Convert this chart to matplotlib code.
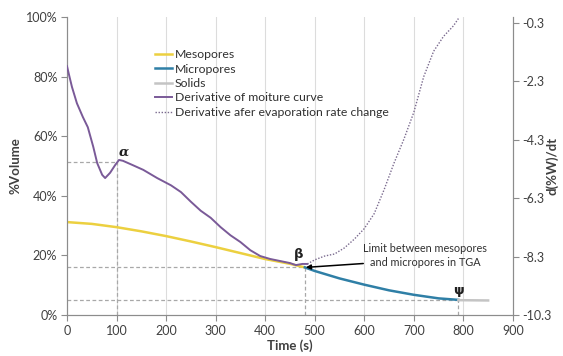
import matplotlib
matplotlib.use("Agg")
import matplotlib.pyplot as plt
from matplotlib.lines import Line2D

plt.rcParams["font.family"] = ["Lato", "DejaVu Sans"]

# data
meso_t = [0, 50, 100, 150, 200, 250, 300, 350, 400, 450, 480]
meso_v = [31.2, 30.6, 29.5, 28.1, 26.5, 24.7, 22.8, 20.8, 18.8, 17.2, 16.0]

micro_t = [480, 500, 550, 600, 650, 700, 750, 790]
micro_v = [16.0, 14.8, 12.3, 10.2, 8.3, 6.8, 5.6, 5.1]

solid_t = [790, 850]
solid_v = [5.0, 4.9]

# derivative of moisture curve (right axis, d(%W)/dt)
der_t = [0, 5, 10, 20, 32, 42, 53, 61, 71, 77, 87, 97, 105, 113, 133, 154, 182,
         210, 230, 250, 270, 290, 310, 330, 350, 370, 390, 410, 430, 450, 462, 475, 485]
der_v = [-1.78, -2.14, -2.49, -3.05, -3.52, -3.87, -4.54, -5.10, -5.50, -5.61,
         -5.43, -5.17, -4.99, -5.02, -5.17, -5.33, -5.61, -5.86, -6.09, -6.42,
         -6.73, -6.97, -7.29, -7.57, -7.80, -8.08, -8.28, -8.38, -8.45, -8.52,
         -8.59, -8.55, -8.55]

# derivative after evaporation rate change
aft_t = [485, 500, 520, 540, 560, 580, 600, 620, 640, 660, 680, 700, 720, 740, 760, 780, 790]
aft_v = [-8.55, -8.41, -8.28, -8.21, -8.00, -7.70, -7.34, -6.83, -6.01, -5.10,
         -4.28, -3.36, -2.14, -1.27, -0.76, -0.40, -0.15]

# reference points alpha, beta, psi
ref_t = [100, 480, 790]
ref_v = [51.5, 16.0, 5.0]

x_ticks = list(range(0, 1000, 100))
y_ticks = [0, 20, 40, 60, 80, 100]
y_labels = ["0%", "20%", "40%", "60%", "80%", "100%"]
r_ticks = [-10.3, -8.3, -6.3, -4.3, -2.3, -0.3]

c_meso = "#ecd040"
c_micro = "#2f7fa6"
c_solid = "#c4c4c4"
c_der = "#7a5a98"
c_aft = "#7a6a8e"
c_guide = "#a8a8a8"
c_axis = "#8c8c8c"
c_text = "#404040"

fig = plt.figure(figsize=(5.63, 3.56), dpi=100)
ax = fig.add_axes([0.119, 0.115, 0.792, 0.837])
ax2 = ax.twinx()

ax.set_xlim(0, 900)
ax.set_ylim(0, 100)
ax2.set_ylim(-10.3, -0.1)

# vertical gridlines
for t in x_ticks[1:-1]:
    ax.axvline(t, color="#dcdcdc", lw=0.8, zorder=0)

# dashed guide lines
for t, v in zip(ref_t, ref_v):
    ax.plot([0, t], [v, v], color=c_guide, lw=0.9, ls=(0, (3, 2)), zorder=1)
    ax.plot([t, t], [0, v], color=c_guide, lw=0.9, ls=(0, (3, 2)), zorder=1)

ax.plot(meso_t, meso_v, color=c_meso, lw=1.8, zorder=3)
ax.plot(micro_t, micro_v, color=c_micro, lw=1.8, zorder=3)
ax.plot(solid_t, solid_v, color=c_solid, lw=1.8, zorder=3)
ax2.plot(der_t, der_v, color=c_der, lw=1.4, zorder=3)
ax2.plot(aft_t, aft_v, color=c_aft, lw=1.0, ls=(0, (1, 1.2)), zorder=3)

# greek markers
ax.text(104, 53.5, "α", fontsize=9.5, style="italic", fontweight="bold",
        color="#202020", family=["DejaVu Serif"])
ax.text(467, 19.0, "β", fontsize=9.5, fontweight="bold", color="#202020", ha="center",
        family=["DejaVu Sans"])
ax.text(790, 7.0, "ψ", fontsize=9.5, fontweight="bold", color="#202020", ha="center",
        family=["DejaVu Sans"])

ax.text(723, 20.0, "Limit between mesopores\nand micropores in TGA", ha="center",
        va="center", fontsize=7.8, color="#303030", linespacing=1.3)
ax.annotate("", xy=(482, 16.0), xytext=(598, 17.3),
            arrowprops=dict(arrowstyle="-|>", color="black", lw=1.1,
                            shrinkA=0, shrinkB=0, mutation_scale=7))

# axes styling
ax.set_xticks(x_ticks)
ax.set_yticks(y_ticks)
ax.set_yticklabels(y_labels)
ax2.set_yticks(r_ticks)
ax2.set_yticklabels([str(r) for r in r_ticks])
for a in (ax, ax2):
    a.spines["top"].set_visible(False)
    for s in ("left", "right", "bottom"):
        a.spines[s].set_color(c_axis)
        a.spines[s].set_linewidth(0.8)
    a.tick_params(colors=c_axis, labelcolor=c_text, labelsize=9, length=4,
                  width=0.8, direction="out", pad=3)
ax.set_xlabel("Time (s)", fontsize=9.5, fontweight="bold", color=c_text, labelpad=2)
ax.set_ylabel("%Volume", fontsize=9.5, fontweight="bold", color=c_text, labelpad=3)
ax2.set_ylabel("d(%W)/dt", fontsize=9.5, fontweight="bold", color=c_text, rotation=90)
ax2.yaxis.set_label_coords(1.073, 0.5)

handles = [
    Line2D([], [], color=c_meso, lw=1.8),
    Line2D([], [], color=c_micro, lw=1.8),
    Line2D([], [], color=c_solid, lw=1.8),
    Line2D([], [], color=c_der, lw=1.4),
    Line2D([], [], color=c_aft, lw=1.0, ls=(0, (1, 1.2))),
]
labels = ["Mesopores", "Micropores", "Solids", "Derivative of moiture curve",
          "Derivative afer evaporation rate change"]
fig.legend(handles, labels, loc="upper left", bbox_to_anchor=(149 / 563, 1 - 43 / 356),
           frameon=False, fontsize=8.8, handlelength=1.4, handletextpad=0.2,
           labelspacing=0.28, borderpad=0, labelcolor="#303030")

fig.savefig("out.png", dpi=100)
